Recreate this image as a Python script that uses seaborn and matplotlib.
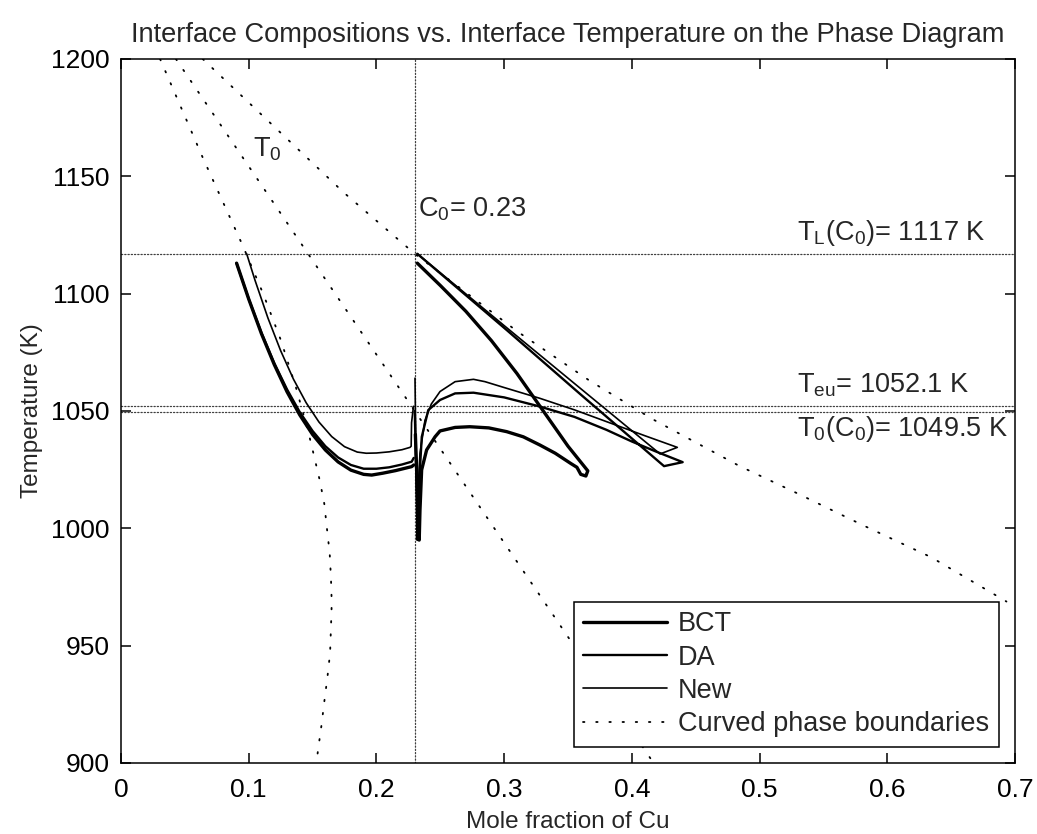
import matplotlib
matplotlib.use("Agg")
import matplotlib.pyplot as plt
import seaborn as sns
import pandas as pd
from matplotlib.lines import Line2D

# ---------------- data ----------------
title = "Interface Compositions vs. Interface Temperature on the Phase Diagram"
x_label = "Mole fraction of Cu"
y_label = "Temperature (K)"
x_ticks = [0, 0.1, 0.2, 0.3, 0.4, 0.5, 0.6, 0.7]
x_tick_labels = ["0", "0.1", "0.2", "0.3", "0.4", "0.5", "0.6", "0.7"]
y_ticks = [900, 950, 1000, 1050, 1100, 1150, 1200]

C0 = 0.23
T_L = 1117
T_eu = 1052.1
T0_C0 = 1049.5

# curved phase boundaries (dotted)
bndA_x = [0.0306, 0.064, 0.0953, 0.1113, 0.1253, 0.137, 0.1467, 0.1511, 0.1556, 0.1592,
          0.1613, 0.1634, 0.1644, 0.165, 0.1644, 0.1637, 0.1616, 0.1592, 0.1569, 0.1543, 0.153]
bndA_T = [1200, 1158, 1120.5, 1100, 1080, 1060, 1041, 1031, 1020.5, 1010.4,
          999.7, 989.4, 978.9, 968.1, 957.6, 946.8, 936.4, 926.2, 915.8, 905.6, 900]
t0_x = [0.043, 0.417]
t0_T = [1200, 900]
liq_x = [0.064, 0.1746, 0.23, 0.3106, 0.3667, 0.4163, 0.4841, 0.5292, 0.5814, 0.6343, 0.6933]
liq_T = [1200, 1143, 1117, 1083.8, 1063, 1046.5, 1026.6, 1015, 1001.2, 987.7, 968.8]

# BCT model
bct_left_x = [0.0905, 0.100, 0.110, 0.120, 0.130, 0.140, 0.150, 0.160, 0.170, 0.180,
              0.190, 0.1963, 0.205, 0.215, 0.2276, 0.2292]
bct_left_T = [1113, 1097.7, 1082.9, 1069.8, 1058.2, 1048.3, 1040.0, 1033.4, 1028.3, 1024.8,
              1023.0, 1022.7, 1023.5, 1024.6, 1026.3, 1027]
bct_right_x = [0.232, 0.25, 0.27, 0.29, 0.31, 0.33, 0.35, 0.3655, 0.364, 0.360, 0.357,
               0.352, 0.340, 0.328, 0.315, 0.302, 0.288, 0.273, 0.2616, 0.2498, 0.2459,
               0.2393, 0.2354, 0.2341, 0.2335, 0.2305]
bct_right_T = [1113, 1103.5, 1092.5, 1080, 1066, 1050.5, 1035, 1024.5, 1022.3, 1023, 1026,
               1027.7, 1032, 1035.5, 1039, 1041.2, 1042.8, 1043.3, 1043, 1041.5, 1039,
               1033.4, 1024.9, 1007.8, 995, 1040]

# DA model
da_left_x = [0.0905, 0.100, 0.110, 0.120, 0.130, 0.140, 0.150, 0.160, 0.170, 0.180,
             0.190, 0.200, 0.210, 0.220, 0.2276, 0.2292]
da_left_T = [1113, 1097.8, 1083.3, 1070.4, 1059.2, 1049.5, 1041.5, 1035.0, 1030.2, 1027.0,
             1025.4, 1025.4, 1026.0, 1027.2, 1028.4, 1030]
da_right_x = [0.232, 0.302, 0.36, 0.4252, 0.4398, 0.419, 0.40, 0.380, 0.355, 0.328, 0.30,
              0.276, 0.2616, 0.2498, 0.2406, 0.2355, 0.233, 0.2325, 0.2300]
da_right_T = [1117, 1084.5, 1057, 1026.5, 1028.2, 1032.7, 1037, 1042, 1047.5, 1051.9, 1055.8,
              1057.8, 1057.5, 1054.7, 1050.4, 1039, 1015, 995, 1050]

# New model
new_left_x = [0.0984, 0.105, 0.115, 0.125, 0.135, 0.145, 0.155, 0.165, 0.175, 0.185,
              0.192, 0.200, 0.210, 0.220, 0.2263, 0.2272, 0.2275, 0.229]
new_left_T = [1117, 1105.6, 1089.7, 1075.7, 1063.6, 1053.5, 1045.3, 1039.1, 1034.8, 1032.5,
              1032, 1032.1, 1032.6, 1033.5, 1034.5, 1035, 1045, 1052]
new_right_x = [0.232, 0.302, 0.36, 0.4221, 0.4356, 0.41, 0.380, 0.355, 0.328, 0.30, 0.285,
               0.276, 0.2616, 0.2498, 0.243, 0.238, 0.2341, 0.2325, 0.2318, 0.2302]
new_right_T = [1117, 1085.5, 1059.5, 1031.7, 1034.5, 1039.5, 1045.5, 1050.5, 1055.4, 1060,
               1062.5, 1063.5, 1062.5, 1058.3, 1053, 1046, 1032, 1015, 995, 1064]

legend_labels = ["BCT", "DA", "New", "Curved phase boundaries"]

# ---------------- style ----------------
sns.set_theme(style="ticks")
plt.rcParams["font.family"] = ["Liberation Sans", "DejaVu Sans"]
plt.rcParams["mathtext.default"] = "regular"
plt.rcParams["axes.linewidth"] = 1.1

fig = plt.figure(figsize=(10.37, 8.34), dpi=100)
fig.patch.set_facecolor("white")
ax = fig.add_axes([121 / 1037, 1 - 763 / 834, 894 / 1037, 704 / 834])
ax.set_facecolor("white")

DOT = (0, (0.8, 6.5))
REF = (0, (1.0, 1.6))
W = {"BCT": 2.4, "DA": 1.7, "New": 1.2}


def draw(xs, ys, lw, ls="-", color="black", z=3):
    df = pd.DataFrame({"x": xs, "y": ys})
    sns.lineplot(data=df, x="x", y="y", sort=False, estimator=None, ax=ax,
                 color=color, linewidth=lw, linestyle=ls, zorder=z,
                 dash_capstyle="round", solid_joinstyle="round")


# reference lines
draw([0, 0.7], [T_L, T_L], 0.9, REF, "0.25", 2)
draw([0, 0.7], [T_eu, T_eu], 0.9, REF, "0.25", 2)
draw([0, 0.7], [T0_C0, T0_C0], 0.9, REF, "0.25", 2)
draw([C0, C0], [900, 1200], 0.9, REF, "0.25", 2)

# phase boundaries
draw(bndA_x, bndA_T, 1.3, DOT)
draw(t0_x, t0_T, 1.3, DOT)
draw(liq_x, liq_T, 1.3, DOT)

# model curves
draw(bct_left_x, bct_left_T, W["BCT"])
draw(bct_right_x, bct_right_T, W["BCT"])
draw(da_left_x, da_left_T, W["DA"])
draw(da_right_x, da_right_T, W["DA"])
draw(new_left_x, new_left_T, W["New"])
draw(new_right_x, new_right_T, W["New"])

# axes
ax.set_xlim(0, 0.7)
ax.set_ylim(900, 1200)
ax.set_xticks(x_ticks)
ax.set_xticklabels(x_tick_labels)
ax.set_yticks(y_ticks)
ax.tick_params(direction="in", length=7, width=1.1, labelsize=19, pad=8,
               top=True, right=True, colors="black")
ax.tick_params(axis="x", pad=11)
for s in ax.spines.values():
    s.set_visible(True)
    s.set_color("black")
    s.set_linewidth(1.1)
ax.set_xlabel(x_label, fontsize=17.5, labelpad=6)
ax.set_ylabel(y_label, fontsize=17.5, labelpad=6)
ax.set_title(title, fontsize=19.6, pad=12)

# annotations
FS = 19.5
ax.text(0.1034, 1158.4, "$T_0$", fontsize=FS, ha="left", va="baseline")
ax.text(0.2326, 1133, "$C_0$= 0.23", fontsize=FS, ha="left", va="baseline")
ax.text(0.5294, 1122.9, "$T_L(C_0)$= 1117 K", fontsize=FS, ha="left", va="baseline")
ax.text(0.5294, 1057.7, "$T_{eu}$= 1052.1 K", fontsize=FS, ha="left", va="baseline")
ax.text(0.5294, 1039.4, "$T_0(C_0)$= 1049.5 K", fontsize=FS, ha="left", va="baseline")

# legend
handles = [
    Line2D([], [], color="black", lw=W["BCT"]),
    Line2D([], [], color="black", lw=W["DA"]),
    Line2D([], [], color="black", lw=W["New"]),
    Line2D([], [], color="black", lw=1.3, ls=DOT, dash_capstyle="round"),
]
leg = ax.legend(handles, legend_labels, loc="lower right", fontsize=19.5,
                frameon=True, fancybox=False, shadow=False, framealpha=1,
                edgecolor="black", handlelength=3.1, handletextpad=0.4,
                labelspacing=0.27, borderpad=0.35, borderaxespad=0.6)
leg.get_frame().set_linewidth(1.1)
leg.set_zorder(10)

fig.savefig("out.png", dpi=100, facecolor="white")
